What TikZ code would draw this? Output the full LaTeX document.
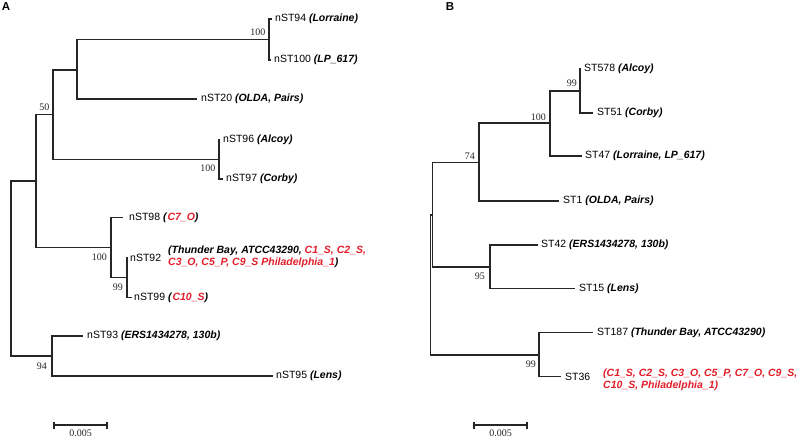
\documentclass[tikz,border=0pt]{standalone}
\usepackage{fontspec}
\setmainfont{Liberation Serif}
\setsansfont{Liberation Sans}
\usetikzlibrary{calc}
\definecolor{strainred}{RGB}{226,30,42}
\newcommand{\strn}[1]{\textbf{\textit{#1}}}
\newcommand{\rstrn}[1]{\textcolor{strainred}{\textbf{\textit{#1}}}}
\begin{document}
\begin{tikzpicture}[x=1pt,y=-1pt,
 branch/.style={line width=1.5pt, draw=black!85},
 lab/.style={anchor=west, inner sep=0pt, font=\sffamily\fontsize{10.5}{12}\selectfont},
 bootup/.style={anchor=east, inner sep=0pt, font=\rmfamily\fontsize{10}{12}\selectfont, text=black!85},
 bootdown/.style={anchor=east, inner sep=0pt, font=\rmfamily\fontsize{10}{12}\selectfont, text=black!85},
 panel/.style={inner sep=0pt, font=\sffamily\bfseries\fontsize{11.5}{12}\selectfont},
 scalebar/.style={line width=1.5pt, draw=black!85},
 scalelab/.style={inner sep=0pt, font=\rmfamily\fontsize{10}{12}\selectfont, text=black!85},
]
\useasboundingbox (0,0) rectangle (797,438);

% ---------------- Panel A ----------------
\node[panel] (pA) at (6,7) {A};
\coordinate (rA) at (11,268.4);
\coordinate (n1) at (36,181);
\coordinate (n2) at (53,114.5);
\coordinate (n3) at (77,70);
\coordinate (n4) at (269,39.5);
\coordinate (n5) at (219,159.5);
\coordinate (n6) at (111,247.7);
\coordinate (n7) at (127,277.7);
\coordinate (n8) at (52,356);
\coordinate (t94) at (272,19);
\coordinate (t100) at (271,60);
\coordinate (t20) at (197,99);
\coordinate (t96) at (220,140);
\coordinate (t97) at (223,179);
\coordinate (t98) at (123,217.7);
\coordinate (t92) at (128,257.7);
\coordinate (t99) at (132,297.7);
\coordinate (t93) at (83,336);
\coordinate (t95) at (273,376);

\draw[branch] (rA) |- (n1);
\draw[branch] (rA) |- (n8);
\draw[branch] (n1) |- (n2);
\draw[branch] (n1) |- (n6);
\draw[branch] (n2) |- (n3);
\draw[branch] (n2) |- (n5);
\draw[branch] (n3) |- (n4);
\draw[branch] (n3) |- (t20);
\draw[branch] (n4) |- (t94);
\draw[branch] (n4) |- (t100);
\draw[branch] (n5) |- (t96);
\draw[branch] (n5) |- (t97);
\draw[branch] (n6) |- (t98);
\draw[branch] (n6) |- (n7);
\draw[branch] (n7) |- (t92);
\draw[branch] (n7) |- (t99);
\draw[branch] (n8) |- (t93);
\draw[branch] (n8) |- (t95);

\node[lab] (L94) at ($(t94)+(3,0)$) {nST94 \strn{(Lorraine)}};
\node[lab] (L100) at ($(t100)+(3,0)$) {nST100 \strn{(LP\_617)}};
\node[lab] (L20) at ($(t20)+(4,0)$) {nST20 \strn{(OLDA, Pairs)}};
\node[lab] (L96) at ($(t96)+(3,0)$) {nST96 \strn{(Alcoy)}};
\node[lab] (L97) at ($(t97)+(3,0)$) {nST97 \strn{(Corby)}};
\node[lab] (L98) at ($(t98)+(6,0)$) {nST98 \strn{(}\rstrn{C7\_O}\strn{)}};
\node[lab] (L92) at ($(t92)+(2,0)$) {nST92};
\node[lab, align=left] (L92s) at (168,256.7) {\strn{(Thunder Bay, ATCC43290,} \rstrn{C1\_S, C2\_S,}\\\rstrn{C3\_O, C5\_P, C9\_S Philadelphia\_1}\strn{)}};
\node[lab] (L99) at ($(t99)+(2,0)$) {nST99 \strn{(}\rstrn{C10\_S}\strn{)}};
\node[lab] (L93) at ($(t93)+(4,0)$) {nST93 \strn{(ERS1434278, 130b)}};
\node[lab] (L95) at ($(t95)+(3,0)$) {nST95 \strn{(Lens)}};

\node[bootup] (bA4) at ($(n4)+(-3.5,-6.8)$) {100};
\node[bootup] (bA2) at ($(n2)+(-3.5,-6.8)$) {50};
\node[bootdown] (bA5) at ($(n5)+(-3.5,9)$) {100};
\node[bootdown] (bA6) at ($(n6)+(-4,9.8)$) {100};
\node[bootdown] (bA7) at ($(n7)+(-4,9.8)$) {99};
\node[bootdown] (bA8) at ($(n8)+(-5,10.3)$) {94};

\coordinate (sa1) at (54,425);
\coordinate (sa2) at (107,425);
\draw[scalebar] (sa1) -- (sa2);
\draw[scalebar] ($(sa1)+(0,-3.5)$) -- ($(sa1)+(0,3.5)$);
\draw[scalebar] ($(sa2)+(0,-3.5)$) -- ($(sa2)+(0,3.5)$);
\path (sa1) -- (sa2) node[midway, below=5pt, scalelab] (sAl) {0.005};

% ---------------- Panel B ----------------
\node[panel] (pB) at (450,7) {B};
\coordinate (rB) at (430.5,285);
\coordinate (m1) at (432.5,215);
\coordinate (m2) at (479,162.5);
\coordinate (m3) at (550,123);
\coordinate (m4) at (580,91);
\coordinate (m5) at (490,267);
\coordinate (m6) at (539,355);
\coordinate (u578) at (581,69);
\coordinate (u51) at (593,113);
\coordinate (u47) at (582,156);
\coordinate (u1) at (559,201);
\coordinate (u42) at (538,245);
\coordinate (u15) at (575,288.7);
\coordinate (u187) at (593,332.7);
\coordinate (u36) at (561,376.7);

\draw[branch] (rB) |- (m1);
\draw[branch] (rB) |- (m6);
\draw[branch] (m1) |- (m2);
\draw[branch] (m1) |- (m5);
\draw[branch] (m2) |- (m3);
\draw[branch] (m2) |- (u1);
\draw[branch] (m3) |- (m4);
\draw[branch] (m3) |- (u47);
\draw[branch] (m4) |- (u578);
\draw[branch] (m4) |- (u51);
\draw[branch] (m5) |- (u42);
\draw[branch] (m5) |- (u15);
\draw[branch] (m6) |- (u187);
\draw[branch] (m6) |- (u36);

\node[lab] (K578) at ($(u578)+(3,0)$) {ST578 \strn{(Alcoy)}};
\node[lab] (K51) at ($(u51)+(4,0)$) {ST51 \strn{(Corby)}};
\node[lab] (K47) at ($(u47)+(3,0)$) {ST47 \strn{(Lorraine, LP\_617)}};
\node[lab] (K1) at ($(u1)+(4,0)$) {ST1 \strn{(OLDA, Pairs)}};
\node[lab] (K42) at ($(u42)+(3,0)$) {ST42 \strn{(ERS1434278, 130b)}};
\node[lab] (K15) at ($(u15)+(4,0)$) {ST15 \strn{(Lens)}};
\node[lab] (K187) at ($(u187)+(4,0)$) {ST187 \strn{(Thunder Bay, ATCC43290)}};
\node[lab] (K36) at ($(u36)+(4,0)$) {ST36};
\node[lab, align=left] (K36s) at (603,379.7) {\rstrn{(C1\_S, C2\_S, C3\_O, C5\_P, C7\_O, C9\_S,}\\\rstrn{C10\_S, Philadelphia\_1)}};

\node[bootup] (bB4) at ($(m4)+(-3,-7.3)$) {99};
\node[bootup] (bB3) at ($(m3)+(-4,-6)$) {100};
\node[bootup] (bB2) at ($(m2)+(-4,-6.5)$) {74};
\node[bootdown] (bB5) at ($(m5)+(-5,9.7)$) {95};
\node[bootdown] (bB6) at ($(m6)+(-3,9.7)$) {99};

\coordinate (sb1) at (474,425);
\coordinate (sb2) at (527,425);
\draw[scalebar] (sb1) -- (sb2);
\draw[scalebar] ($(sb1)+(0,-3.5)$) -- ($(sb1)+(0,3.5)$);
\draw[scalebar] ($(sb2)+(0,-3.5)$) -- ($(sb2)+(0,3.5)$);
\path (sb1) -- (sb2) node[midway, below=5pt, scalelab] (sBl) {0.005};
\end{tikzpicture}
\end{document}
